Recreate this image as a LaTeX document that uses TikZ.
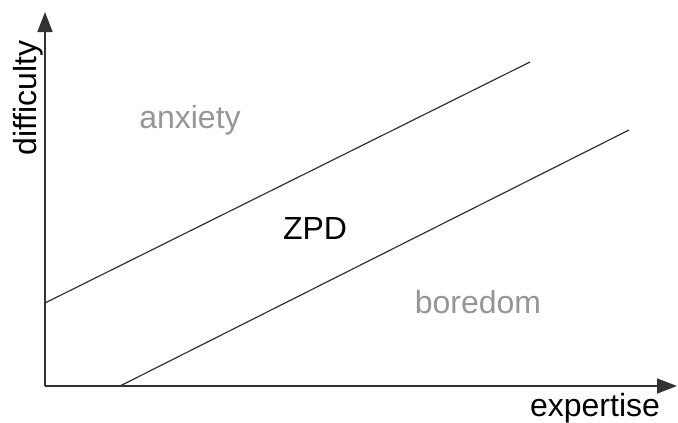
\documentclass[tikz,border=0pt]{standalone}
\usepackage{fontspec}
\setmainfont{Liberation Sans}
\usetikzlibrary{arrows.meta}
\definecolor{lbl}{RGB}{150,150,150}
\definecolor{ln}{RGB}{50,50,50}
\begin{document}
\begin{tikzpicture}[x=1pt,y=-1pt,
  axis/.style={draw=ln,line width=1.6pt,-{Triangle[length=20pt,width=15pt]}},
  zone/.style={draw=ln,line width=1.2pt},
  lab/.style={font=\fontsize{32}{38}\selectfont,inner sep=0pt},
  graylab/.style={lab,text=lbl}]
\useasboundingbox (0,0) rectangle (678,423);
\coordinate (O) at (45,386);
\coordinate (ytip) at (45,12);
\coordinate (xtip) at (677,386);
\coordinate (u1) at (45,303);
\coordinate (u2) at (530,62);
\coordinate (l1) at (120,386);
\coordinate (l2) at (629,130);
\draw[axis] (O) -- (ytip);
\draw[axis] (O) -- (xtip);
\draw[zone] (u1) -- (u2);
\draw[zone] (l1) -- (l2);
\node[graylab] (anx) at (190,120) {anxiety};
\node[lab] (zpd) at (315,228) {ZPD};
\node[graylab] (bor) at (478,302) {boredom};
\node[lab] (exp) at (595,408) {expertise};
\node[lab,rotate=90] (dif) at (28,98) {difficulty};
\end{tikzpicture}
\end{document}
